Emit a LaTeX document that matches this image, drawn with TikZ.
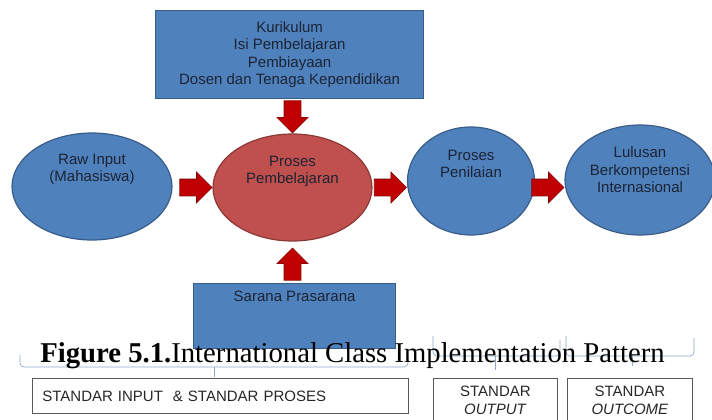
\documentclass[tikz,border=0pt]{standalone}
\usepackage{fontspec}
\setmainfont{Liberation Serif}
\setsansfont{Liberation Sans}
\usetikzlibrary{shapes.geometric,shapes.arrows,positioning}
\definecolor{boxblue}{HTML}{4F81BD}
\definecolor{boxblueline}{HTML}{385D8A}
\definecolor{ellred}{HTML}{C0504D}
\definecolor{ellredline}{HTML}{8C3836}
\definecolor{arrred}{HTML}{C00000}
\definecolor{arrredline}{HTML}{8B0000}
\definecolor{txtdark}{HTML}{1C2333}
\definecolor{bracecol}{HTML}{8EA9C8}
\begin{document}
\begin{tikzpicture}[x=1pt,y=1pt,
		txt/.style={font=\sffamily\fontsize{15}{17.5}\selectfont, text=txtdark, align=center, inner sep=0pt},
		bluebox/.style={draw=boxblueline, fill=boxblue, line width=1.2pt, anchor=north west},
		blueell/.style={ellipse, draw=boxblueline, fill=boxblue, line width=1.2pt, inner sep=0pt},
		redell/.style={blueell, draw=ellredline, fill=ellred},
		blockarrow/.style={single arrow, draw=arrredline, fill=arrred, line width=0.8pt, minimum height=32pt, minimum width=30pt, single arrow head extend=7pt, inner sep=0pt, inner ysep=8pt, text height=0pt, text depth=0pt, anchor=tip},
		stdbox/.style={draw=black!65, line width=0.8pt, anchor=north west, inner xsep=10pt, font=\sffamily\fontsize{15}{17.5}\selectfont, text=black!85},
		brace/.style={draw=bracecol, line width=0.7pt, rounded corners=4pt}]
	\useasboundingbox (0,0) rectangle (712,-420);
	% boxes above and below the process
	\node [bluebox, txt, minimum width=268pt, minimum height=88pt] (inputs) at (155,-10) {Kurikulum\\Isi Pembelajaran\\Pembiayaan\\Dosen dan Tenaga Kependidikan};
	\node [bluebox, minimum width=202pt, minimum height=65pt] (sarana) at (193,-283) {};
	\node [txt, below=8pt of sarana.north] (saranatxt) {Sarana Prasarana};
	% ellipses
	\node [blueell, minimum width=160pt, minimum height=107pt] (raw) at (92,-186.5) {};
	\node [redell, minimum width=159pt, minimum height=107pt] (proses) at (292.5,-187.5) {};
	\node [blueell, minimum width=127pt, minimum height=108pt] (penilaian) at (471,-181) {};
	\node [blueell, minimum width=150pt, minimum height=110pt] (lulusan) at (640,-180) {};
	\node [txt] (rawtxt) at ([yshift=17pt]raw.center) {Raw Input\\(Mahasiswa)};
	\node [txt] (prosestxt) at ([yshift=16pt]proses.center) {Proses\\Pembelajaran};
	\node [txt] (penilaiantxt) at ([yshift=17pt]penilaian.center) {Proses\\Penilaian};
	\node [txt] (lulusantxt) at ([yshift=10pt]lulusan.center) {Lulusan\\Berkompetensi\\Internasional};
	% block arrows
	\node [blockarrow] (arrraw) at (proses.west) {};
	\node [blockarrow, rotate=-90] (arrtop) at (proses.north) {};
	\node [blockarrow, rotate=90] (arrbottom) at ([yshift=-6pt]proses.south) {};
	\node [blockarrow] (arrnilai) at (penilaian.west |- proses.center) {};
	\node [blockarrow] (arrlulus) at (lulusan.west |- proses.center) {};
	% braces
	\draw [brace] (20,-355) -- (20,-367) -- (408,-367) -- (408,-355);
	\draw [brace] (214,-367) -- (214,-377);
	\draw [brace] (433,-336) -- (433,-356) -- (560,-356) -- (560,-340);
	\draw [brace] (495,-356) -- (495,-370);
	\draw [brace] (566,-336) -- (566,-356) -- (694,-356) -- (694,-338);
	\draw [brace] (632,-356) -- (632,-366);
	% standards
	\node [stdbox, minimum width=376pt, minimum height=35pt, text width=356pt, align=left] (stdinput) at (32,-378) {STANDAR INPUT \ \& STANDAR PROSES};
	\node [stdbox, minimum width=124pt, minimum height=44pt, align=center] (stdoutput) at (433,-378) {STANDAR\\\textit{OUTPUT}};
	\node [stdbox, minimum width=125pt, minimum height=44pt, align=center] (stdoutcome) at (567,-378) {STANDAR\\\textit{OUTCOME}};
	% caption
	\node [anchor=base, inner sep=0pt, font=\fontsize{28.7}{30}\selectfont] (caption) at (352.5,-362) {\textbf{Figure 5.1.}International Class Implementation Pattern};
\end{tikzpicture}
\end{document}
